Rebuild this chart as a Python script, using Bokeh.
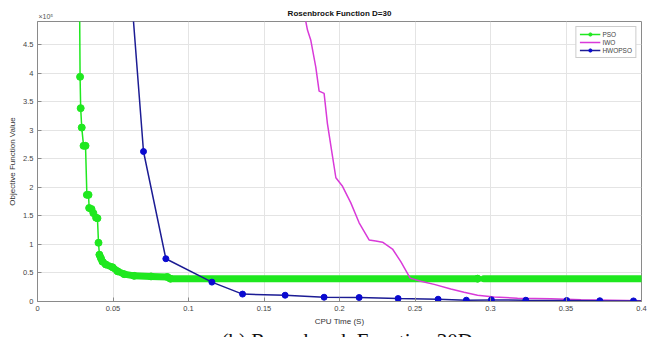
from bokeh.plotting import figure
from bokeh.models import Range1d, FixedTicker, Title, Legend, LegendItem
from bokeh.embed import file_html
from bokeh.resources import INLINE

nan = float("nan")

# ---- data (objective values in units of 1e5) ----
pso_x = [0.0278, 0.0282, 0.0286, 0.0293, 0.0305, 0.0318, 0.0327, 0.0338, 0.0342,
         0.0358, 0.0370, 0.0388, 0.0397, 0.0404, 0.0410, 0.0420, 0.0430, 0.0452,
         0.0497, 0.0530, 0.0574, 0.0640, 0.0752, 0.0860, 0.0880, 0.2915, 0.2955, 0.4000]
pso_y = [5.50, 3.94, 3.39, 3.05, 2.73, 2.73, 1.87, 1.87, 1.64,
         1.62, 1.55, 1.47, 1.46, 1.03, 0.82, 0.76, 0.70, 0.65,
         0.60, 0.53, 0.48, 0.45, 0.44, 0.43, 0.40, 0.40, 0.40, 0.40]

iwo_x = [0.1770, 0.1788, 0.1810, 0.1843, 0.1865, 0.1898, 0.1920, 0.1954, 0.1976,
         0.2020, 0.2075, 0.2130, 0.2196, 0.2240, 0.2285, 0.2351, 0.2406, 0.2468,
         0.2538, 0.2627, 0.2737, 0.2825, 0.2914, 0.3024, 0.3179, 0.3400, 0.3600, 0.4000]
iwo_y = [5.00, 4.76, 4.58, 4.11, 3.69, 3.65, 3.12, 2.54, 2.17,
         2.02, 1.73, 1.38, 1.08, 1.06, 1.04, 0.92, 0.70, 0.41,
         0.355, 0.30, 0.22, 0.163, 0.11, 0.08, 0.058, 0.047, 0.03, 0.015]

hw_x = [0.0630, 0.0702, 0.0850, 0.1155, 0.1358, 0.1640, 0.1898, 0.2130, 0.2388,
        0.2653, 0.2840, 0.3006, 0.3234, 0.3505, 0.3724, 0.3947, 0.4000]
hw_y = [5.11, 2.63, 0.75, 0.34, 0.13, 0.11, 0.075, 0.07, 0.052,
        0.04, 0.023, 0.028, 0.022, 0.017, 0.013, 0.010, 0.010]

x_ticks = [0, 0.05, 0.1, 0.15, 0.2, 0.25, 0.3, 0.35, 0.4]
x_tick_labels = ["0", "0.05", "0.1", "0.15", "0.2", "0.25", "0.3", "0.35", "0.4"]
y_ticks = [0, 0.5, 1, 1.5, 2, 2.5, 3, 3.5, 4, 4.5]
y_tick_labels = ["0", "0.5", "1", "1.5", "2", "2.5", "3", "3.5", "4", "4.5"]

GREEN = "#1fe81f"
MAGENTA = "#d93ad9"
BLUE_LINE = "#1c1c94"
BLUE_MARK = "#0a0ad0"
FONT = "Liberation Sans"

p = figure(width=647, height=337, output_backend="svg", toolbar_location=None,
           x_range=Range1d(0, 0.4), y_range=Range1d(0, 4.91),
           title="Rosenbrock Function D=30",
           min_border_left=37, min_border_right=6, min_border_top=21, min_border_bottom=35)
p.background_fill_color = "white"
p.border_fill_color = "white"
p.outline_line_color = "#8a8a8a"

p.title.align = "center"
p.title.text_font = FONT
p.title.text_font_size = "8px"
p.title.text_font_style = "bold"
p.title.text_color = "#111111"
p.title.vertical_align = "bottom"
p.title.standoff = -11

for ax, ticks, labels in ((p.xaxis, x_ticks, x_tick_labels), (p.yaxis, y_ticks, y_tick_labels)):
    ax.ticker = FixedTicker(ticks=ticks)
    ax.major_label_overrides = {t: l for t, l in zip(ticks, labels)}
    ax.major_tick_in = 4
    ax.major_tick_out = 0
    ax.minor_tick_line_color = None
    ax.axis_line_color = "#8a8a8a"
    ax.major_tick_line_color = "#8a8a8a"
    ax.major_label_text_font = FONT
    ax.major_label_text_font_size = "7.5px"
    ax.major_label_text_color = "#444444"
    ax.axis_label_text_font = FONT
    ax.axis_label_text_font_size = "8px"
    ax.axis_label_text_font_style = "normal"
    ax.axis_label_text_color = "#333333"
    ax.major_label_standoff = 4

p.xaxis.axis_label = "CPU Time (S)"
p.xaxis.axis_label_standoff = 3
p.yaxis.axis_label = "Objective Function Value"
p.yaxis.axis_label_standoff = 3

p.xgrid.ticker = FixedTicker(ticks=x_ticks)
p.ygrid.ticker = FixedTicker(ticks=y_ticks)
p.grid.grid_line_color = "#e4e4e4"
p.grid.grid_line_width = 1

# PSO
idx_band = pso_x.index(0.0410)
band_x = pso_x[idx_band:-2] + [nan] + pso_x[-2:]
band_y = pso_y[idx_band:-2] + [nan] + pso_y[-2:]
p.line(band_x, band_y, line_color=GREEN, line_width=7, line_cap="round", line_join="round")
pso_l = p.line(pso_x, pso_y, line_color=GREEN, line_width=1.5)
pso_m = p.scatter(pso_x[1:-2], pso_y[1:-2], size=7, fill_color=GREEN, line_color=GREEN)

# IWO
iwo_l = p.line(iwo_x, iwo_y, line_color=MAGENTA, line_width=1.5)

# HWOPSO
hw_l = p.line(hw_x, hw_y, line_color=BLUE_LINE, line_width=1.5)
hw_m = p.scatter(hw_x[1:-1], hw_y[1:-1], size=6, fill_color=BLUE_MARK, line_color=BLUE_MARK)

legend = Legend(items=[LegendItem(label="PSO", renderers=[pso_l, pso_m]),
                       LegendItem(label="IWO", renderers=[iwo_l]),
                       LegendItem(label="HWOPSO", renderers=[hw_l, hw_m])],
                location="top_right", margin=5, padding=3, spacing=0,
                glyph_width=21, glyph_height=8, label_height=8, label_standoff=2,
                label_text_font=FONT, label_text_font_size="6.5px",
                border_line_color="#999999", background_fill_alpha=1)
p.add_layout(legend)

# axis exponent (top-left, above the frame)
p.add_layout(Title(text="\u00d710\u2075", align="left", offset=1, standoff=0,
                   vertical_align="top",
                   text_font=FONT, text_font_size="7px", text_font_style="normal",
                   text_color="#555555"), "above")
# figure caption below the chart (cut off by the window edge, as in the reference)
p.add_layout(Title(text="\n(b) Rosenbrock Function 30D", align="left", offset=184, standoff=-32,
                   vertical_align="bottom", text_line_height=0.64,
                   text_font="Liberation Serif", text_font_size="21px", text_font_style="normal",
                   text_color="#111111"), "below")

open("out.html", "w").write(file_html(p, INLINE))
